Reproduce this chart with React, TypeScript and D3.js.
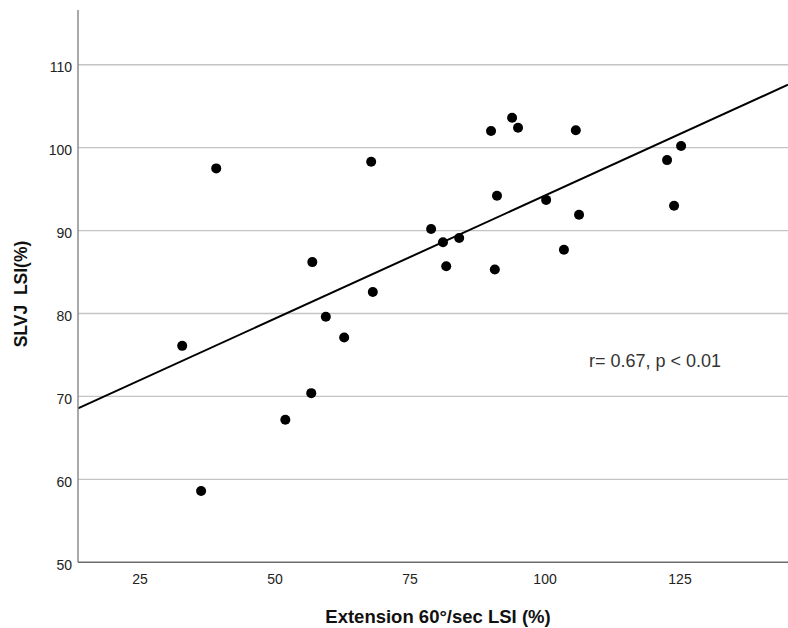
import React from "react";
import * as d3 from "d3";

const extensionLSI = [32.8, 39.1, 36.3, 51.9, 56.7, 56.9, 59.4, 62.8, 67.8, 68.1, 78.9, 81.1, 81.7, 84.1, 90.0, 90.7, 91.1, 93.9, 95.0, 100.2, 103.5, 105.7, 106.3, 122.6, 123.9, 125.2];
const slvjLSI = [76.1, 97.5, 58.6, 67.2, 70.4, 86.2, 79.6, 77.1, 98.3, 82.6, 90.2, 88.6, 85.7, 89.1, 102.0, 85.3, 94.2, 103.6, 102.4, 93.7, 87.7, 102.1, 91.9, 98.5, 93.0, 100.2];
const xTicks = [25, 50, 75, 100, 125];
const yTicks = [50, 60, 70, 80, 90, 100, 110];
const fitIntercept = 64.55;
const fitSlope = 0.2968;
const xDomain = [13.5, 145];
const yDomain = [50, 116.6];
const annotation = "r= 0.67, p < 0.01";
const xTitle = "Extension 60°/sec LSI (%)";
const yTitle = "SLVJ\u00a0\u00a0LSI(%)";

export default function App() {
  const W = 788, H = 628;
  const left = 78, right = 788, top = 10, bottom = 562.3;
  const x = d3.scaleLinear().domain(xDomain).range([left, right]);
  const y = d3.scaleLinear().domain(yDomain).range([bottom, top]);
  const line = d3.line<number>().x((d) => x(d)).y((d) => y(fitIntercept + fitSlope * d));
  const font = "'Liberation Sans', Arial, sans-serif";
  return (
    <svg width={W} height={H} style={{ position: "absolute", left: 0, top: 0, background: "#fff" }}>
      <rect width={W} height={H} fill="#fff" />
      {yTicks.filter((t) => t > 50).map((t) => (
        <line key={t} x1={left} x2={right} y1={y(t)} y2={y(t)} stroke="#c4c4c4" strokeWidth={1.3} />
      ))}
      <path d={line([xDomain[0], xDomain[1]]) || ""} stroke="#000" strokeWidth={2} fill="none" />
      {extensionLSI.map((v, i) => (
        <circle key={i} cx={x(v)} cy={y(slvjLSI[i])} r={5} fill="#000" />
      ))}
      <line x1={left} x2={left} y1={top} y2={bottom} stroke="#8c8c8c" strokeWidth={1.5} />
      <line x1={left} x2={right} y1={bottom} y2={bottom} stroke="#6c6c6c" strokeWidth={1.5} />
      {yTicks.map((t) => (
        <text key={t} x={72} y={y(t) + 7.3} textAnchor="end" fontFamily={font} fontSize={14} fill="#222">{t}</text>
      ))}
      {xTicks.map((t) => (
        <text key={t} x={x(t)} y={583.5} textAnchor="middle" fontFamily={font} fontSize={14} fill="#222">{t}</text>
      ))}
      <text x={438} y={623} textAnchor="middle" fontFamily={font} fontSize={18.5} fontWeight="bold" fill="#111">{xTitle}</text>
      <text transform={`translate(27, 294) rotate(-90)`} textAnchor="middle" fontFamily={font} fontSize={17.5} fontWeight="bold" fill="#111">{yTitle}</text>
      <text x={589} y={366.5} fontFamily={font} fontSize={18} fill="#333">{annotation}</text>
    </svg>
  );
}
